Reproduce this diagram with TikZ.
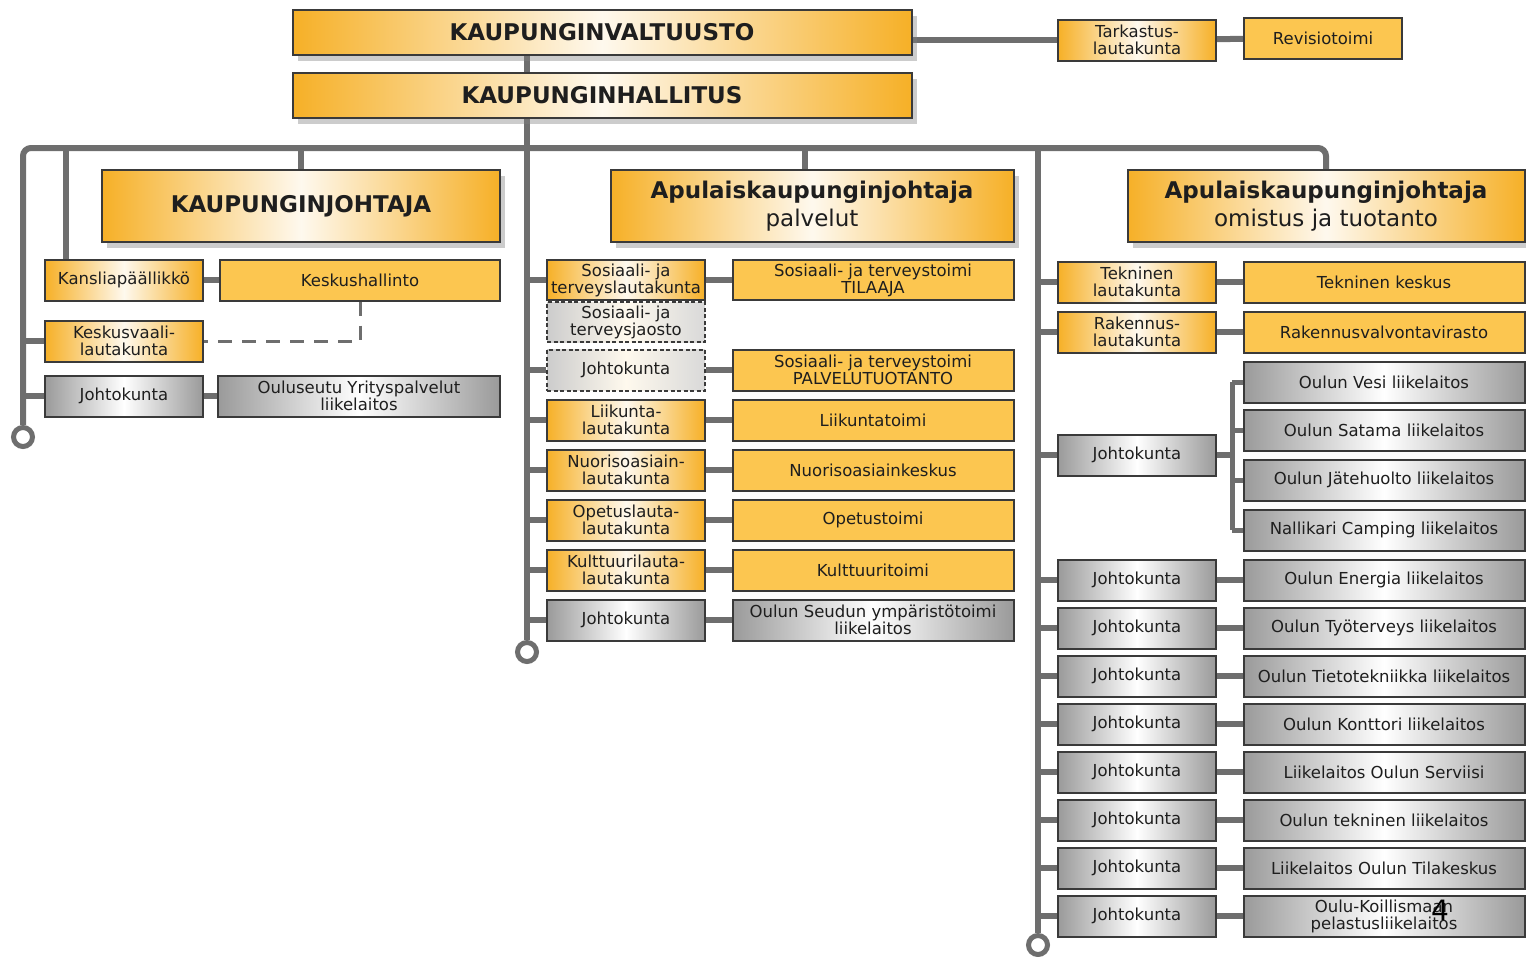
\documentclass[tikz,border=0pt]{standalone}
\usepackage{fontspec}
\setmainfont{DejaVu Sans}
\usetikzlibrary{positioning,shadows,calc,backgrounds}
\definecolor{ogold}{HTML}{F6B027}
\definecolor{oflat}{HTML}{FCC650}
\definecolor{ggray}{HTML}{9A9A9A}
\definecolor{lgray}{HTML}{6E6E6E}
\definecolor{bdark}{HTML}{3A3A3A}
\definecolor{tdark}{HTML}{1E1E1E}

\begin{document}
\begin{tikzpicture}[x=1pt,y=-1pt,
  box/.style={draw=bdark,line width=2pt,inner sep=0pt,align=center,text=tdark,font=\fontsize{16.5}{17}\selectfont},
  obox/.style={box,left color=ogold,right color=ogold,middle color=white!92!ogold},
  fbox/.style={box,fill=oflat},
  gbox/.style={box,left color=ggray,right color=ggray,middle color=white},
  dbox/.style={box,dash pattern=on 4pt off 2.5pt,left color=gray!40,right color=gray!30,middle color=white!90!oflat},
  sw/.style={minimum width=158pt,minimum height=41pt},
  lw/.style={minimum width=281pt,minimum height=41pt},
  big/.style={obox,minimum height=72pt,font=\fontsize{23}{28}\selectfont,
    drop shadow={shadow xshift=5pt,shadow yshift=-6pt,opacity=.4}},
  link/.style={draw=lgray,line width=6pt},
  dlink/.style={draw=lgray,line width=3pt,dash pattern=on 14pt off 10pt},
  ring/.style={circle,draw=lgray,line width=5pt,fill=white,minimum size=19pt,inner sep=0pt}]
\useasboundingbox (0,0) rectangle (1526,956);

\node[big,minimum width=619pt,minimum height=45pt] (kv) at (602,32) {\textbf{KAUPUNGINVALTUUSTO}};
\node[big,minimum width=619pt,minimum height=45pt] (kh) at (602,95) {\textbf{KAUPUNGINHALLITUS}};
\node[obox,sw] (tl) at (1137,40) {Tarkastus-\\lautakunta};
\node[fbox,sw] (rv) at (1323,38) {Revisiotoimi};

\node[big,minimum width=398pt] (kj) at (301,206) {\textbf{KAUPUNGINJOHTAJA}};
\node[big,minimum width=403pt] (ap) at (812,206) {\textbf{Apulaiskaupunginjohtaja}\\palvelut};
\node[big,minimum width=397pt] (ao) at (1326,206) {\textbf{Apulaiskaupunginjohtaja}\\omistus ja tuotanto};

\node[obox,sw] (kp) at (124,280) {Kansliapäällikkö};
\node[fbox,minimum width=280pt,minimum height=41pt] (kk) at (360,280) {Keskushallinto};
\node[obox,sw] (kvl) at (124,341) {Keskusvaali-\\lautakunta};
\node[gbox,sw] (lj) at (124,396) {Johtokunta};
\node[gbox,minimum width=282pt,minimum height=41pt] (ly) at (359,396) {Ouluseutu Yrityspalvelut\\liikelaitos};

\node[ring] (c1) at (23,437) {};
\node[ring] (c2) at (527,652) {};
\node[ring] (c3) at (1038,945) {};
\coordinate (bus) at (1326,148);

\node[obox,sw,minimum height=40pt] (m1) at (626,280) {Sosiaali- ja\\terveyslautakunta};
\node[fbox,lw,minimum height=40pt] (r1) at (873,280) {Sosiaali- ja terveystoimi\\TILAAJA};
\node[dbox,sw,minimum height=40pt] (sj) at (626,322) {Sosiaali- ja\\terveysjaosto};
\node[dbox,sw] (m2) at (626,370) {Johtokunta};
\node[fbox,lw] (r2) at (873,370) {Sosiaali- ja terveystoimi\\PALVELUTUOTANTO};
\foreach \y/\a/\b [count=\i from 3] in {420/{Liikunta-\\lautakunta}/Liikuntatoimi,
  470/{Nuorisoasiain-\\lautakunta}/Nuorisoasiainkeskus,
  520/{Opetuslauta-\\lautakunta}/Opetustoimi,
  570/{Kulttuurilauta-\\lautakunta}/Kulttuuritoimi}{
  \node[obox,sw] (m\i) at (626,\y) {\a};
  \node[fbox,lw] (r\i) at (873,\y) {\b};
}
\node[gbox,sw] (m7) at (626,620) {Johtokunta};
\node[gbox,lw] (r7) at (873,620) {Oulun Seudun ympäristötoimi\\liikelaitos};

\node[obox,sw] (t1) at (1137,282) {Tekninen\\lautakunta};
\node[fbox,lw] (u1) at (1384,282) {Tekninen keskus};
\node[obox,sw] (t2) at (1137,332) {Rakennus-\\lautakunta};
\node[fbox,lw] (u2) at (1384,332) {Rakennusvalvontavirasto};
\node[gbox,sw] (rj0) at (1137,455) {Johtokunta};
\coordinate (st) at (1232,455);
\foreach \y/\t [count=\i] in {382/Oulun Vesi liikelaitos,430/Oulun Satama liikelaitos,
  480/Oulun Jätehuolto liikelaitos,530/Nallikari Camping liikelaitos}{
  \node[gbox,lw] (v\i) at (1384,\y) {\t};
}
\foreach \y/\t [count=\i] in {580/Oulun Energia liikelaitos,628/Oulun Työterveys liikelaitos,
  676/Oulun Tietotekniikka liikelaitos,724/Oulun Konttori liikelaitos,
  772/Liikelaitos Oulun Serviisi,820/Oulun tekninen liikelaitos,
  868/Liikelaitos Oulun Tilakeskus,916/{Oulu-Koillismaan\\pelastusliikelaitos}}{
  \node[gbox,sw] (rj\i) at (1137,\y) {Johtokunta};
  \node[gbox,lw] (rl\i) at (1384,\y) {\t};
}
\node[font=\fontsize{28}{28}\selectfont] (pg) at (1440,910) {4};

\begin{scope}[on background layer]
\draw[link] (kv.south -| c2) -- (kh.north -| c2);
\draw[link] (kh.south -| c2) -- (c2.north);
\draw[link] (tl.west -| kv.east) -- (tl.west);
\draw[link] (tl) -- (rv);
\draw[link,rounded corners=8pt] (c1.north) |- (bus) -- (ao.north);
\draw[link] (kj.north) -- (kj.north |- bus);
\draw[link] ($(ap.north)+(-7,0)$) -- ($(ap.north |- bus)+(-7,0)$);
\draw[link] (c3.north) -- (c3.north |- bus);
\draw[link] ($(kp.north)+(-58,0)$) -- ($(kp.north |- bus)+(-58,0)$);
\draw[link] (kp) -- (kk);
\draw[link] (kvl.west) -- (kvl.west -| c1);
\draw[link] (lj.west) -- (lj.west -| c1);
\draw[link] (lj) -- (ly);
\draw[dlink] (kk.south) |- (kvl.east);
\foreach \n in {1,...,7}{
  \draw[link] (m\n.west) -- (m\n.west -| c2);
  \draw[link] (m\n) -- (r\n);
}
\foreach \n in {1,2}{
  \draw[link] (t\n.west) -- (t\n.west -| c3);
  \draw[link] (t\n) -- (u\n);
}
\draw[link] (rj0.west) -- (rj0.west -| c3);
\draw[link] (rj0) -- (st);
\draw[link,line width=5pt] (v1.west -| st) -- (v4.west -| st);
\foreach \n in {1,...,4}
  \draw[link,line width=5pt] (v\n.west) -- (v\n.west -| st);
\foreach \n in {1,...,8}{
  \draw[link] (rj\n.west) -- (rj\n.west -| c3);
  \draw[link] (rj\n) -- (rl\n);
}
\end{scope}
\end{tikzpicture}
\end{document}
